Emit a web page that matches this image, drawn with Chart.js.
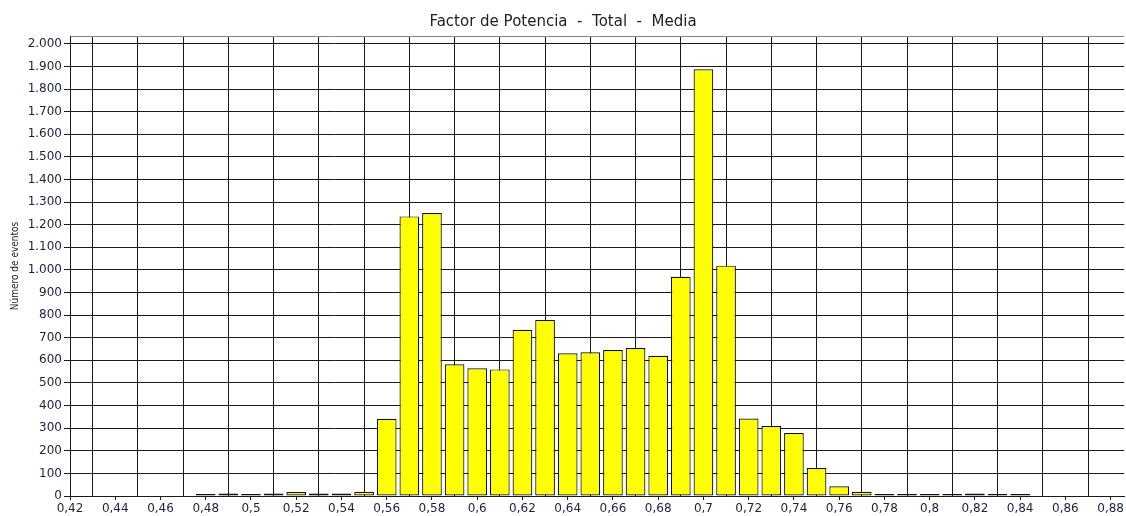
<!DOCTYPE html>
<html>
<head>
<meta charset="utf-8">
<script src="https://cdn.jsdelivr.net/npm/chart.js@4/dist/chart.umd.min.js"></script>
<style>
  html, body { margin: 0; padding: 0; background: #fff; }
  #wrap { position: relative; width: 1126px; height: 516px; }
</style>
</head>
<body>
<div id="wrap"><canvas id="histChart"></canvas></div>
<script>
// power factor classes (bar centres) and number of events per class
const factorValues = [0.48, 0.49, 0.50, 0.51, 0.52, 0.53, 0.54, 0.55, 0.56, 0.57,
  0.58, 0.59, 0.60, 0.61, 0.62, 0.63, 0.64, 0.65, 0.66, 0.67,
  0.68, 0.69, 0.70, 0.71, 0.72, 0.73, 0.74, 0.75, 0.76, 0.77,
  0.78, 0.79, 0.80, 0.81, 0.82, 0.83, 0.84];
const eventCounts = [2, 11, 6, 11, 18, 11, 11, 19, 342, 1237,
  1252, 583, 565, 560, 735, 779, 631, 636, 646, 655,
  620, 970, 1888, 1019, 343, 310, 279, 124, 43, 19,
  2, 2, 2, 4, 11, 2, 5];

// x axis runs 0,42 .. 0,88 in steps of 0,01 (labels on even steps only)
const xTicks = [];
for (let i = 42; i <= 88; i++) xTicks.push(i / 100);
const yTicks = [];
for (let v = 0; v <= 2000; v += 100) yTicks.push(v);
const yTop = 2035;

const labelColor = '#1c2240';
const fmtThousands = v => String(v).replace(/\B(?=(\d{3})+(?!\d))/g, '.');

const ctx = document.getElementById('histChart').getContext('2d');
new Chart(ctx, {
  type: 'bar',
  data: {
    datasets: [{
      data: factorValues.map((f, i) => ({ x: f, y: eventCounts[i] })),
      backgroundColor: '#ffff00',
      borderColor: '#111',
      borderWidth: 1.2,
      borderSkipped: false,
      minBarLength: 2,
      barPercentage: 0.87,
      categoryPercentage: 1
    }]
  },
  options: {
    responsive: true,
    maintainAspectRatio: false,
    animation: false,
    layout: { padding: { left: 0, right: 0, top: 0, bottom: 0 } },
    plugins: {
      legend: { display: false },
      tooltip: { enabled: false },
      title: {
        display: true,
        text: 'Factor de Potencia  -  Total  -  Media',
        color: '#222',
        font: { family: 'DejaVu Sans', size: 15, weight: 'normal' },
        padding: { top: 13, bottom: 5 }
      }
    },
    scales: {
      x: {
        type: 'linear',
        min: 0.42,
        max: 0.886,
        offset: false,
        afterBuildTicks: scale => { scale.ticks = xTicks.map(v => ({ value: v })); },
        afterFit: scale => { scale.height = 20; },
        ticks: {
          autoSkip: false,
          maxRotation: 0,
          padding: 2,
          color: labelColor,
          font: { family: 'DejaVu Sans', size: 12 },
          callback: v => {
            const k = Math.round(v * 100);
            return k % 2 === 0 ? String(k / 100).replace('.', ',') : '';
          }
        },
        grid: {
          offset: false,
          drawOnChartArea: true,
          tickLength: 4,
          color: c => (Math.round(c.tick.value * 100) % 2 === 1 ? '#1a1a1a' : 'rgba(0,0,0,0)'),
          tickColor: c => (Math.round(c.tick.value * 100) % 2 === 0 ? '#1a1a1a' : 'rgba(0,0,0,0)')
        },
        border: { color: '#1a1a1a', width: 1 }
      },
      y: {
        min: 0,
        max: yTop,
        afterBuildTicks: scale => {
          scale.ticks = yTicks.map(v => ({ value: v })).concat([{ value: yTop }]);
        },
        afterFit: scale => { scale.width = 70; },
        ticks: {
          autoSkip: false,
          padding: 2,
          color: labelColor,
          font: { family: 'DejaVu Sans', size: 12 },
          callback: v => (v === yTop ? '' : fmtThousands(v))
        },
        grid: {
          tickLength: 6,
          color: c => (c.tick.value === yTop ? '#888' : '#1a1a1a'),
          tickColor: c => (c.tick.value === yTop ? 'rgba(0,0,0,0)' : '#1a1a1a')
        },
        border: { color: '#1a1a1a', width: 1 },
        title: {
          display: true,
          text: 'Número de eventos',
          color: '#222',
          font: { family: 'DejaVu Sans Condensed', size: 10 },
          padding: { top: 9, bottom: 0 }
        }
      }
    }
  }
});
</script>
</body>
</html>
